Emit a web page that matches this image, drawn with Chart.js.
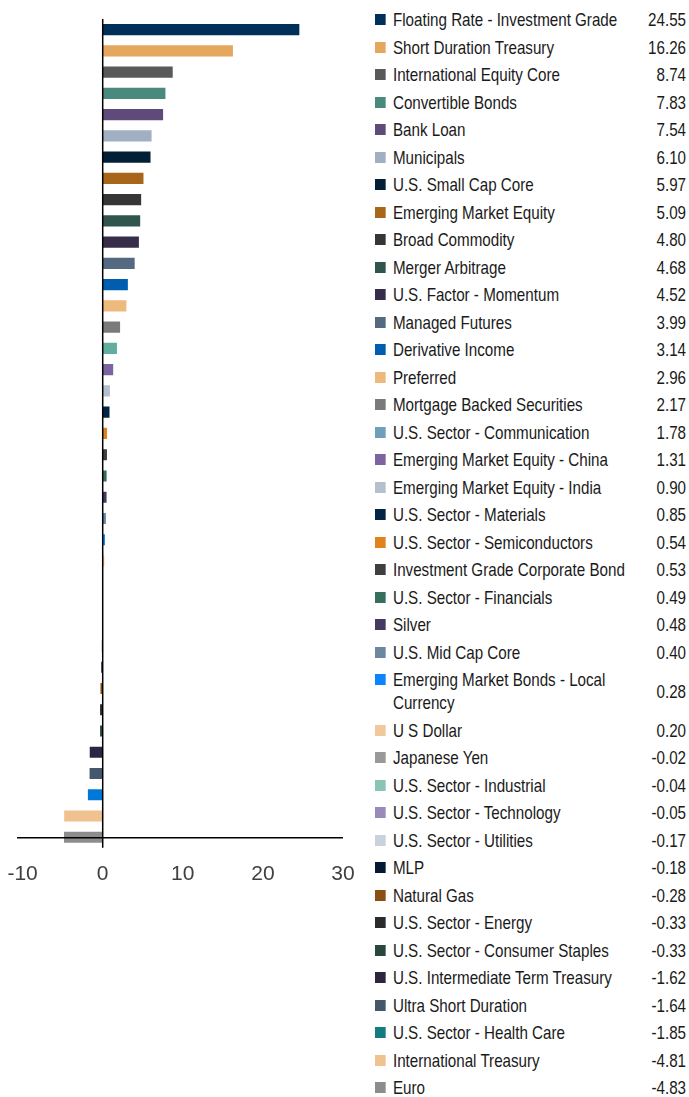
<!DOCTYPE html>
<html>
<head>
<meta charset="utf-8">
<script src="https://cdn.jsdelivr.net/npm/chart.js@4.4.1/dist/chart.umd.min.js"></script>
<style>
  body { margin: 0; background: #fff; width: 689px; height: 1097px; position: relative; overflow: hidden; }
  #wrap { position: absolute; left: 0; top: 0; width: 360px; height: 913px; }
  /* no narrow face installed: squeeze Liberation Sans horizontally instead */
  #key { position: absolute; left: 375px; top: 6px; width: 379.3px;
         transform: scaleX(0.82); transform-origin: 0 0;
         font-family: "Liberation Sans", Arial, sans-serif; font-size: 18.5px; color: #1a1a1a; }
  .row { display: flex; padding: 2.25px 0; line-height: 23px; }
  .sw { width: 13.4px; height: 11px; margin-top: 6px; flex: none; }
  .lab { width: 293px; margin-left: 8.5px; flex: none; }
  .val { flex: 1; text-align: right; align-self: center; }
</style>
</head>
<body>
<div id="wrap"><canvas id="bars" width="360" height="913"></canvas></div>
<div id="key"></div>
<script>
const categories = [
  "Floating Rate - Investment Grade", "Short Duration Treasury", "International Equity Core",
  "Convertible Bonds", "Bank Loan", "Municipals", "U.S. Small Cap Core", "Emerging Market Equity",
  "Broad Commodity", "Merger Arbitrage", "U.S. Factor - Momentum", "Managed Futures",
  "Derivative Income", "Preferred", "Mortgage Backed Securities", "U.S. Sector - Communication",
  "Emerging Market Equity - China", "Emerging Market Equity - India", "U.S. Sector - Materials",
  "U.S. Sector - Semiconductors", "Investment Grade Corporate Bond", "U.S. Sector - Financials",
  "Silver", "U.S. Mid Cap Core", "Emerging Market Bonds - Local Currency", "U S Dollar",
  "Japanese Yen", "U.S. Sector - Industrial", "U.S. Sector - Technology", "U.S. Sector - Utilities",
  "MLP", "Natural Gas", "U.S. Sector - Energy", "U.S. Sector - Consumer Staples",
  "U.S. Intermediate Term Treasury", "Ultra Short Duration", "U.S. Sector - Health Care",
  "International Treasury", "Euro"
];
const returns = [
  24.55, 16.26, 8.74, 7.83, 7.54, 6.10, 5.97, 5.09, 4.80, 4.68, 4.52, 3.99, 3.14, 2.96, 2.17,
  1.78, 1.31, 0.90, 0.85, 0.54, 0.53, 0.49, 0.48, 0.40, 0.28, 0.20, -0.02, -0.04, -0.05, -0.17,
  -0.18, -0.28, -0.33, -0.33, -1.62, -1.64, -1.85, -4.81, -4.83
];
const barColors = [
  "#00305A", "#E5A65E", "#595959", "#4A8A7E", "#5E4B79", "#A0B0C2", "#021F35", "#A8661A",
  "#363636", "#2F554D", "#372D4A", "#536A80", "#005EB0", "#EDB97C", "#7A7A7A", "#62AE9E",
  "#7C64A2", "#B4C0CE", "#022547", "#E0831F", "#3F3F3F", "#35705F", "#453861", "#6D87A0",
  "#0A84FF", "#F0C89A", "#999999", "#89C4B5", "#9A8ABA", "#C9D1DB", "#021B33", "#8B4F14",
  "#2B2B2B", "#29473F", "#2E2640", "#45586B", "#0078D7", "#F0C28F", "#8C8C8C"
];
// the key squares differ from the bars for two rows
const keyColors = barColors.slice();
keyColors[15] = "#6FA0BB";
keyColors[36] = "#137C7E";
const xTicks = [-10, 0, 10, 20, 30];

const axisLines = {
  id: "axisLines",
  afterDatasetsDraw(chart) {
    const { ctx, chartArea, scales } = chart;
    const x0 = scales.x.getPixelForValue(0);
    const yLast = scales.y.getPixelForValue(categories.length - 1);
    ctx.save();
    ctx.strokeStyle = "#000";
    ctx.lineWidth = 1.5;
    ctx.beginPath();
    ctx.moveTo(x0, chartArea.top);
    ctx.lineTo(x0, chartArea.bottom);
    ctx.moveTo(chartArea.left, yLast + 0.5);
    ctx.lineTo(chartArea.right, yLast + 0.5);
    ctx.stroke();
    ctx.restore();
  }
};

const chart = new Chart(document.getElementById("bars").getContext("2d"), {
  type: "bar",
  data: {
    labels: categories,
    datasets: [{
      data: returns,
      backgroundColor: barColors,
      borderWidth: 0,
      barPercentage: 0.52,
      categoryPercentage: 1
    }]
  },
  options: {
    indexAxis: "y",
    responsive: false,
    animation: false,
    layout: { padding: { left: 17, right: 17, top: 19, bottom: 12 } },
    plugins: { legend: { display: false }, tooltip: { enabled: false } },
    scales: {
      x: {
        min: -10.7,
        max: 30,
        afterBuildTicks: (axis) => { axis.ticks = xTicks.map(v => ({ value: v })); },
        // end labels may hang over the plot edge, the padding leaves room for them
        afterFit: (axis) => { axis.paddingLeft = 0; axis.paddingRight = 0; },
        grid: { display: false, drawTicks: false },
        border: { display: false },
        ticks: { font: { family: "'Liberation Sans', Arial, sans-serif", size: 21 }, color: "#404040", padding: 14 }
      },
      y: { display: false, offset: true }
    }
  },
  plugins: [axisLines]
});

const key = document.getElementById("key");
categories.forEach((name, i) => {
  const row = document.createElement("div");
  row.className = "row";
  row.innerHTML = '<div class="sw" style="background:' + keyColors[i] + '"></div>' +
    '<div class="lab">' + name + '</div><div class="val">' + returns[i].toFixed(2) + '</div>';
  key.appendChild(row);
});
</script>
</body>
</html>
